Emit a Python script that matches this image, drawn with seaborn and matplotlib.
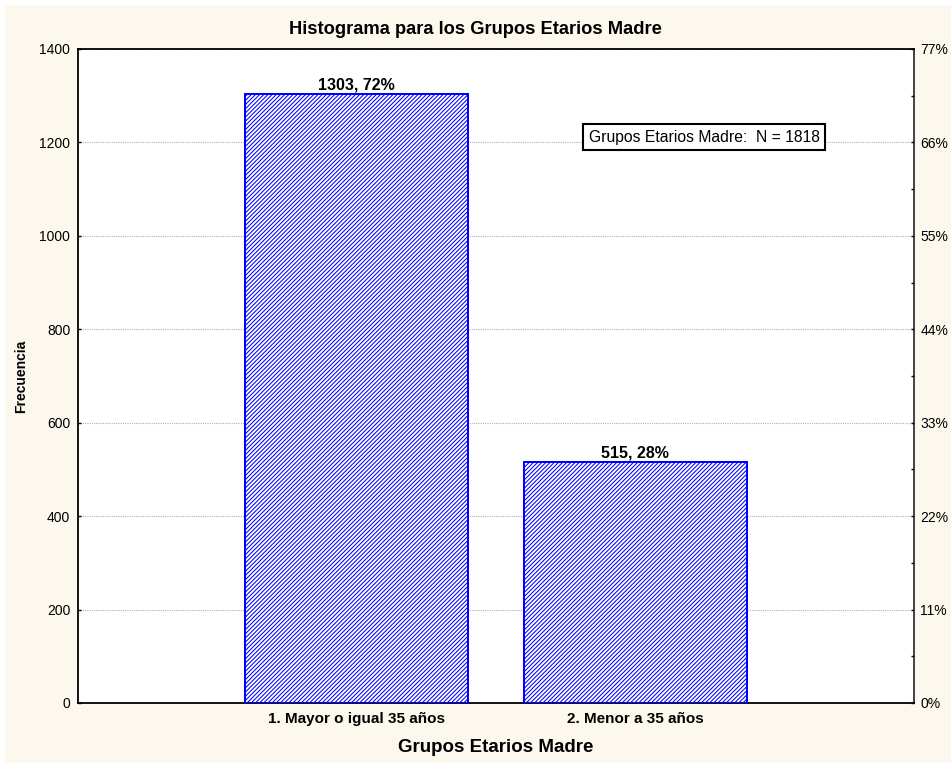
import matplotlib
matplotlib.use("Agg")
import matplotlib.pyplot as plt
import seaborn as sns
import pandas as pd
from matplotlib.patches import Rectangle
from matplotlib.ticker import MultipleLocator, FixedLocator

categories = ["1. Mayor o igual 35 años", "2. Menor a 35 años"]
counts = [1303, 515]
total_n = 1818
y_ticks = [0, 200, 400, 600, 800, 1000, 1200, 1400]

sns.set_theme(style="white")
plt.rcParams['font.family'] = ['Liberation Sans', 'DejaVu Sans']
plt.rcParams['hatch.linewidth'] = 0.75

cream = '#FDF8EE'
blue = '#0000FF'

fig = plt.figure(figsize=(9.51, 7.63), dpi=100)
fig.patch.set_facecolor('white')
fig.patches.append(Rectangle((5/951, 0), 946/951, 758/763, transform=fig.transFigure,
                             facecolor=cream, edgecolor='none', zorder=-10))

ax = fig.add_axes([78/951, 60/763, 836/951, 654/763])
ax.set_facecolor('white')

df = pd.DataFrame({"cat": categories, "n": counts})
sns.barplot(data=df, x="cat", y="n", ax=ax, color='white', width=0.8,
            edgecolor=blue, linewidth=1.1, zorder=3)
for p in ax.patches:
    p.set_facecolor('white')
    p.set_edgecolor(blue)
    p.set_hatch('////////')
    p.set_antialiased(False)

for i, v in enumerate(counts):
    pct = round(v / total_n * 100)
    ax.text(i, v + 4, f"{v}, {pct}%", ha='center', va='bottom',
            fontsize=11.5, fontweight='bold', color='black', zorder=5)

ax.set_xlim(-1, 2)
ax.set_ylim(0, 1400)
ax.yaxis.set_major_locator(FixedLocator(y_ticks))
ax.grid(axis='y', which='major', color='#B0B0B0', linestyle=(0, (1, 1)), linewidth=0.8, zorder=0)
ax.set_axisbelow(True)
ax.tick_params(axis='y', which='both', direction='in', length=2, width=1, labelsize=10,
               left=True, right=False, pad=5.5, colors='black')
ax.tick_params(axis='x', direction='in', length=2, width=1, bottom=True, pad=6.5)
for lbl in ax.get_xticklabels():
    lbl.set_fontweight('bold')
    lbl.set_fontsize(11)
    lbl.set_color('black')
for s in ax.spines.values():
    s.set_color('black')
    s.set_linewidth(1.3)
ax.spines['right'].set_color('#333333')

ax.set_xlabel("Grupos Etarios Madre", fontsize=13.5, fontweight='bold', labelpad=9, color='black')
ax.set_ylabel("Frecuencia", fontsize=10, fontweight='bold', labelpad=8, color='black')
fig.text(0.5, 1 - 29/763, "Histograma para los Grupos Etarios Madre", fontsize=13.2,
         fontweight='bold', ha='center', va='center', color='black')

ax2 = ax.twinx()
ax2.set_ylim(0, 1400)
ax2.yaxis.set_major_locator(FixedLocator(y_ticks))
ax2.yaxis.set_minor_locator(MultipleLocator(100))
ax2.set_yticklabels([f"{round(t / total_n * 100)}%" for t in y_ticks])
ax2.tick_params(axis='y', which='both', direction='in', length=2, width=1, labelsize=10,
                pad=4.5, colors='black')
ax2.grid(False)
for s in ax2.spines.values():
    s.set_visible(False)

ax.text(0.749, 0.865, "Grupos Etarios Madre:  N = 1818", transform=ax.transAxes,
        ha='center', va='center', fontsize=11.3, color='black', zorder=6,
        bbox=dict(boxstyle='square,pad=0.35', facecolor='white', edgecolor='black', linewidth=1.5))

fig.savefig("out.png", dpi=100, facecolor=fig.get_facecolor())
